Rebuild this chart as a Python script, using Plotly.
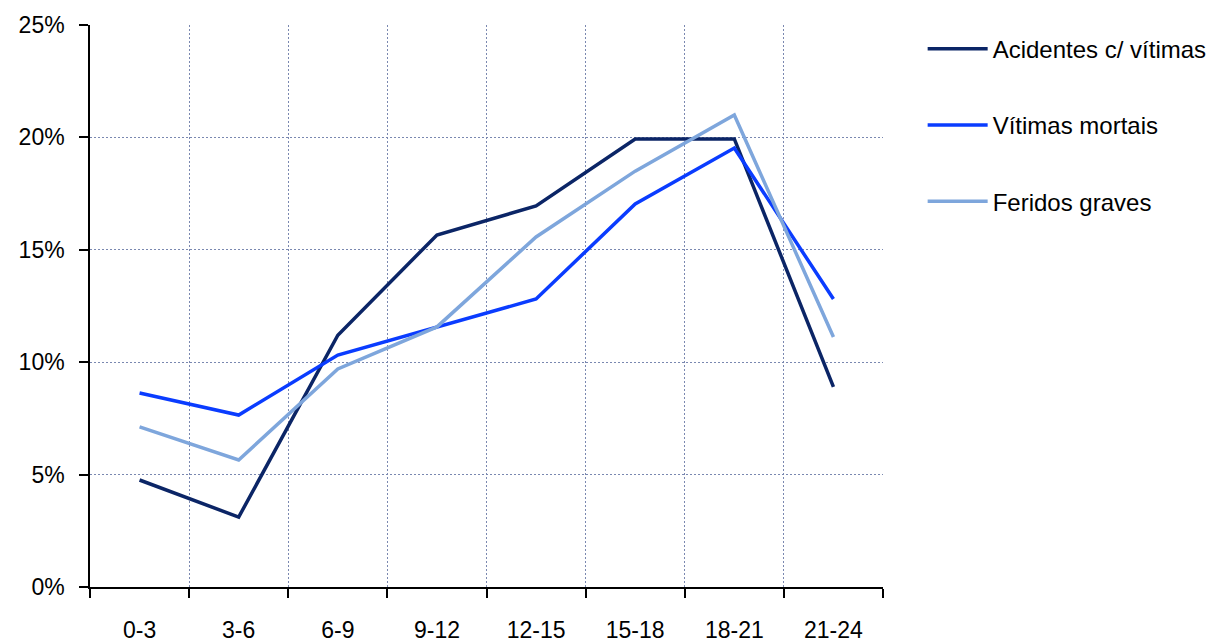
import plotly.graph_objects as go

categories = ["0-3", "3-6", "6-9", "9-12", "12-15", "15-18", "18-21", "21-24"]
acidentes = [4.76, 3.11, 11.2, 15.66, 16.95, 19.93, 19.93, 8.9]
mortais = [8.63, 7.65, 10.32, 11.57, 12.81, 17.04, 19.53, 12.81]
feridos = [7.12, 5.65, 9.70, 11.57, 15.57, 18.5, 21.0, 11.12]

series = [
    ("Acidentes c/ vítimas", acidentes, "#0b2566"),
    ("Vítimas mortais", mortais, "#0a3cff"),
    ("Feridos graves", feridos, "#7ea6dc"),
]

fig = go.Figure()
for i, (name, vals, color) in enumerate(series):
    fig.add_trace(go.Scatter(
        x=categories, y=[v / 100 for v in vals], name=name, mode="lines",
        line=dict(color=color, width=3.5), legendgroup=f"g{i}",
    ))

grid_color = "#7a88b0"
fig.update_layout(
    width=1225, height=642,
    margin=dict(l=82, r=350, t=17, b=63, autoexpand=False),
    paper_bgcolor="white", plot_bgcolor="white",
    font=dict(family="Liberation Sans, Arial, sans-serif", size=23, color="black"),
    showlegend=True,
    legend=dict(x=1.05, y=0.997, xanchor="left", yanchor="top",
                font=dict(size=24), tracegroupgap=42, itemwidth=60,
                bgcolor="rgba(0,0,0,0)"),
    xaxis=dict(
        type="category", tickson="boundaries", ticks="outside", ticklen=9,
        tickwidth=1.5, tickcolor="black",
        showline=True, linecolor="black", linewidth=1.5,
        showgrid=True, gridcolor=grid_color, gridwidth=1, griddash="2px,2px",
        tickfont=dict(size=23), range=[-0.5, 7.5], ticklabelstandoff=22,
    ),
    yaxis=dict(
        range=[0, 0.25], dtick=0.05, tickformat=".0%", ticks="outside",
        ticklen=9, tickwidth=1.5, tickcolor="black",
        showline=True, linecolor="black", linewidth=1.5,
        showgrid=True, gridcolor=grid_color, gridwidth=1, griddash="2px,2px",
        zeroline=False, tickfont=dict(size=23), ticklabelstandoff=10,
    ),
)

fig.write_html("out.html")
